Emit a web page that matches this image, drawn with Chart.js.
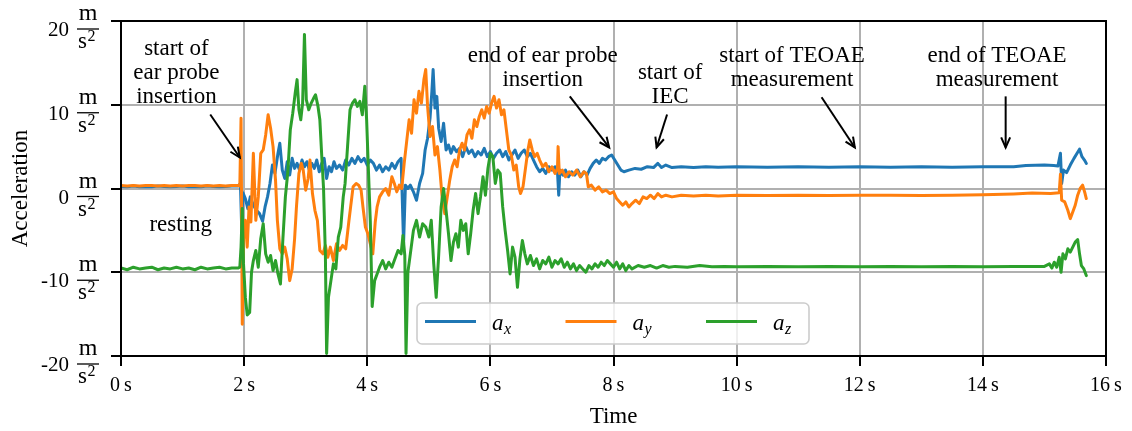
<!DOCTYPE html>
<html>
<head>
<meta charset="utf-8">
<script src="https://cdn.jsdelivr.net/npm/chart.js@4.4.0/dist/chart.umd.min.js"></script>
<style>
  html, body { margin: 0; padding: 0; background: #fff; }
  canvas { display: block; }
</style>
</head>
<body>
<canvas id="accelChart" width="1132" height="431"></canvas>
<script>
// Time stamps (s) and acceleration values (m/s^2)
const tX = [
  0, 0.1, 0.2, 0.3, 0.4, 0.5, 0.6, 0.7, 0.8, 0.9,
  1.0, 1.1, 1.2, 1.3, 1.4, 1.5, 1.6, 1.7, 1.8, 1.9,
  1.94, 1.96, 1.98, 2.02, 2.06, 2.10, 2.15, 2.20, 2.25, 2.30,
  2.34, 2.38, 2.42, 2.46, 2.50, 2.55, 2.58, 2.62, 2.66, 2.70,
  2.74, 2.78, 2.82, 2.86, 2.90, 2.94, 2.98, 3.02, 3.06, 3.10,
  3.14, 3.18, 3.22, 3.26, 3.30, 3.34, 3.38, 3.42, 3.46, 3.50,
  3.55, 3.60, 3.65, 3.70, 3.75, 3.80, 3.85, 3.90, 3.95, 4.00,
  4.05, 4.10, 4.15, 4.20, 4.25, 4.30, 4.35, 4.40, 4.45, 4.50,
  4.55, 4.59, 4.62, 4.66, 4.70, 4.75, 4.80, 4.85, 4.90, 4.94,
  4.98, 5.02, 5.05, 5.07, 5.10, 5.13, 5.16, 5.20, 5.24, 5.28,
  5.32, 5.36, 5.40, 5.45, 5.50, 5.55, 5.60, 5.65, 5.70, 5.75,
  5.80, 5.85, 5.90, 5.95, 6.00, 6.05, 6.10, 6.15, 6.20, 6.25,
  6.30, 6.35, 6.40, 6.45, 6.50, 6.55, 6.60, 6.65, 6.70, 6.75,
  6.80, 6.85, 6.90, 6.95, 7.00, 7.05, 7.09, 7.11, 7.13, 7.18,
  7.22, 7.27, 7.32, 7.37, 7.42, 7.47, 7.52, 7.57, 7.62, 7.67,
  7.72, 7.77, 7.82, 7.87, 7.92, 7.97, 8.02, 8.07, 8.12, 8.17,
  8.25, 8.35, 8.45, 8.55, 8.65, 8.72, 8.78, 8.85, 8.95, 9.1,
  9.3, 9.5, 9.7, 10.0, 10.5, 11.0, 11.5, 12.0, 12.5, 13.0,
  13.5, 14.0, 14.5, 14.7, 15.0, 15.15, 15.22, 15.26, 15.28, 15.31,
  15.36, 15.42, 15.48, 15.53, 15.57, 15.61, 15.65, 15.68
];
const ax = [
  0.25, 0.2, 0.3, 0.2, 0.25, 0.2, 0.3, 0.25, 0.2, 0.25,
  0.3, 0.2, 0.25, 0.2, 0.3, 0.25, 0.2, 0.25, 0.3, 0.3,
  0.6, -4.6, -0.5, -1.2, -2.4, -1.0, -2.0, -2.6, -3.0, -3.9,
  -2.2, -1.0, 0.6, 2.8, 1.8, 4.2, 5.4, 2.2, 1.2, 3.2,
  1.6, 3.6, 2.4, 3.0, 2.2, 3.4, 2.6, 3.2, 2.2, 3.0,
  2.4, 3.4, 2.0, 3.0, 3.6, 1.2, 2.6, 2.0, 3.2, 2.4,
  2.8, 2.2, 3.4, 2.8, 3.6, 3.0, 3.8, 3.2, 3.6, 2.8,
  3.4, 3.0, 2.2, 2.8, 2.0, 2.6, 2.2, 3.0, 2.4, 3.2,
  3.6, -6.6, 0.4, 0.0, 0.4, -0.4, -1.4, 0.6, 1.8, 4.6,
  6.0, 8.4, 11.6, 14.2, 9.6, 11.0, 7.2, 5.6, 7.8, 4.6,
  5.2, 4.2, 5.0, 4.4, 4.8, 3.8, 5.0, 4.2, 4.6, 3.8,
  4.4, 4.0, 4.8, 3.8, 4.4, 3.6, 4.2, 4.6, 3.8, 4.4,
  3.4, 4.0, 4.6, 3.6, 4.2, 4.6, 3.8, 4.2, 3.4, 2.6,
  2.0, 2.4, 1.8, 2.6, 2.2, 2.6, 2.0, -0.8, 2.2, 1.6,
  2.2, 1.4, 2.0, 1.6, 2.2, 1.4, 2.0, 1.6, 2.4, 3.0,
  3.4, 3.0, 3.6, 3.4, 3.8, 4.0, 3.4, 2.8, 2.2, 2.0,
  2.2, 2.4, 2.3, 2.6, 2.5, 3.0, 2.5, 2.8, 2.5, 2.6,
  2.5, 2.6, 2.55, 2.6, 2.55, 2.6, 2.55, 2.6, 2.55, 2.6,
  2.55, 2.6, 2.6, 2.75, 2.8, 2.75, 2.7, 4.2, 0.6, 2.2,
  1.9, 2.8, 3.6, 4.2, 4.7, 3.8, 3.4, 3.0
];

const tY = [
  0, 0.1, 0.2, 0.3, 0.4, 0.5, 0.6, 0.7, 0.8, 0.9,
  1.0, 1.1, 1.2, 1.3, 1.4, 1.5, 1.6, 1.7, 1.8, 1.9,
  1.93, 1.95, 1.97, 1.99, 2.02, 2.05, 2.08, 2.11, 2.15, 2.19,
  2.23, 2.27, 2.31, 2.35, 2.39, 2.43, 2.47, 2.51, 2.54, 2.58,
  2.62, 2.66, 2.70, 2.74, 2.78, 2.82, 2.85, 2.89, 2.93, 2.96,
  3.00, 3.04, 3.07, 3.11, 3.15, 3.19, 3.23, 3.28, 3.32, 3.36,
  3.40, 3.45, 3.50, 3.55, 3.60, 3.65, 3.70, 3.73, 3.77, 3.82,
  3.86, 3.90, 3.93, 3.97, 4.01, 4.05, 4.09, 4.13, 4.16, 4.20,
  4.25, 4.30, 4.35, 4.40, 4.44, 4.48, 4.52, 4.56, 4.60, 4.64,
  4.68, 4.72, 4.76, 4.80, 4.84, 4.88, 4.92, 4.95, 4.98, 5.02,
  5.06, 5.10, 5.14, 5.18, 5.22, 5.26, 5.30, 5.34, 5.38, 5.42,
  5.46, 5.50, 5.54, 5.58, 5.62, 5.66, 5.70, 5.74, 5.78, 5.82,
  5.86, 5.90, 5.94, 5.98, 6.02, 6.06, 6.10, 6.14, 6.18, 6.22,
  6.26, 6.30, 6.34, 6.38, 6.42, 6.46, 6.49, 6.53, 6.57, 6.61,
  6.64, 6.68, 6.72, 6.76, 6.80, 6.85, 6.90, 6.95, 7.00, 7.05,
  7.09, 7.10, 7.12, 7.17, 7.22, 7.28, 7.34, 7.40, 7.46, 7.52,
  7.56, 7.59, 7.64, 7.70, 7.76, 7.82, 7.88, 7.94, 8.00, 8.05,
  8.10, 8.15, 8.20, 8.25, 8.30, 8.36, 8.42, 8.48, 8.54, 8.60,
  8.66, 8.72, 8.78, 8.85, 8.95, 9.1, 9.3, 9.5, 9.7, 10.0,
  10.5, 11.0, 11.5, 12.0, 12.5, 13.0, 13.5, 14.0, 14.5, 14.8,
  15.1, 15.24, 15.26, 15.28, 15.33, 15.38, 15.42, 15.46, 15.50, 15.54,
  15.58, 15.62, 15.66, 15.68
];
const ay = [
  0.35, 0.3, 0.35, 0.3, 0.35, 0.35, 0.3, 0.35, 0.3, 0.35,
  0.3, 0.35, 0.35, 0.3, 0.35, 0.3, 0.35, 0.3, 0.35, 0.35,
  0.3, 8.4, -16.2, -6.0, -3.8, -7.0, -2.2, -4.0, 4.2, -3.8,
  -1.0, 4.2, 4.6, 6.4, 8.8, 7.2, 5.0, 1.0, -3.8, -7.2,
  -7.8, -7.0, -8.4, -11.0, -9.6, -6.0, -2.2, 1.8, 3.0, 2.2,
  -0.2, 1.2, 3.4, -0.6, -2.6, -3.8, -7.4, -7.8, -6.8, -8.2,
  -7.0, -8.6, -6.6, -7.4, -6.8, -7.2, -4.0, -2.2, 0.2, 0.6,
  0.4, -0.2, -2.2, -4.6, -5.4, -6.6, -7.8, -4.0, -2.2, -1.0,
  -0.4, 0.0, -0.8, 1.4, 0.6, -0.4, 0.4, 0.0, 3.0, 5.6,
  8.2, 6.6, 10.6, 9.0, 11.6, 10.2, 13.0, 14.2, 9.8, 6.2,
  7.4, 4.0, 5.0, 2.2, -1.4, -3.0, -1.0, 1.0, 2.6, 3.4,
  2.6, 4.6, 5.4, 4.6, 6.4, 7.0, 6.0, 8.2, 7.4, 8.6,
  9.4, 8.4, 9.8, 9.0, 10.2, 11.0, 9.6, 10.6, 8.8, 9.4,
  7.0, 4.6, 4.0, 2.2, 2.8, 0.2, -0.6, 0.2, 2.4, 4.6,
  5.8, 4.6, 3.8, 4.2, 3.4, 2.6, 3.0, 2.0, 2.6, 1.8,
  2.4, 5.0, 1.8, 2.2, 1.4, 2.0, 1.6, 2.2, 1.4, 2.0,
  1.8, 0.2, 0.4, -0.2, 0.2, -0.4, -0.2, -0.6, -0.4, -1.2,
  -1.6, -2.0, -1.6, -2.2, -1.8, -1.4, -1.8, -1.0, -1.2, -0.8,
  -1.2, -0.6, -1.0, -0.8, -1.0, -0.8, -0.9, -0.8, -0.9, -0.8,
  -0.85, -0.8, -0.85, -0.8, -0.8, -0.85, -0.8, -0.75, -0.65, -0.55,
  -0.6, -0.5, 1.7, -1.4, -1.6, -2.6, -3.6, -2.8, -2.0, -0.8,
  0.0, 0.4, -0.6, -1.2
];

const tZ = [
  0, 0.1, 0.2, 0.3, 0.4, 0.5, 0.6, 0.7, 0.8, 0.9,
  1.0, 1.1, 1.2, 1.3, 1.4, 1.5, 1.6, 1.7, 1.8, 1.9,
  1.93, 1.95, 1.97, 1.99, 2.02, 2.05, 2.09, 2.12, 2.15, 2.19,
  2.23, 2.27, 2.31, 2.35, 2.39, 2.43, 2.47, 2.51, 2.55, 2.59,
  2.63, 2.67, 2.71, 2.75, 2.79, 2.83, 2.86, 2.89, 2.92, 2.95,
  2.98, 3.01, 3.05, 3.09, 3.13, 3.16, 3.20, 3.23, 3.26, 3.29,
  3.32, 3.34, 3.37, 3.41, 3.45, 3.49, 3.53, 3.57, 3.61, 3.64,
  3.68, 3.72, 3.76, 3.80, 3.84, 3.88, 3.92, 3.96, 3.99, 4.02,
  4.05, 4.08, 4.12, 4.16, 4.20, 4.25, 4.30, 4.35, 4.40, 4.45,
  4.50, 4.55, 4.58, 4.61, 4.63, 4.66, 4.70, 4.75, 4.80, 4.85,
  4.90, 4.95, 5.00, 5.04, 5.08, 5.12, 5.16, 5.20, 5.24, 5.28,
  5.32, 5.36, 5.40, 5.44, 5.48, 5.52, 5.56, 5.60, 5.64, 5.68,
  5.72, 5.76, 5.80, 5.84, 5.88, 5.92, 5.96, 6.00, 6.04, 6.08,
  6.12, 6.16, 6.20, 6.24, 6.28, 6.32, 6.36, 6.40, 6.44, 6.48,
  6.52, 6.56, 6.60, 6.65, 6.70, 6.75, 6.80, 6.85, 6.90, 6.95,
  7.00, 7.05, 7.10, 7.15, 7.20, 7.25, 7.30, 7.35, 7.40, 7.45,
  7.50, 7.55, 7.60, 7.65, 7.70, 7.75, 7.80, 7.85, 7.90, 7.95,
  8.00, 8.05, 8.10, 8.15, 8.20, 8.25, 8.30, 8.40, 8.50, 8.60,
  8.70, 8.80, 8.90, 9.0, 9.2, 9.4, 9.6, 9.8, 10.0, 10.5,
  11.0, 11.5, 12.0, 12.5, 13.0, 13.5, 14.0, 14.5, 15.0, 15.08,
  15.12, 15.16, 15.20, 15.24, 15.27, 15.30, 15.34, 15.38, 15.42, 15.46,
  15.50, 15.54, 15.57, 15.60, 15.64, 15.68
];
const az = [
  -9.5, -9.7, -9.4, -9.6, -9.5, -9.4, -9.7, -9.5, -9.6, -9.4,
  -9.6, -9.5, -9.7, -9.4, -9.6, -9.5, -9.4, -9.6, -9.5, -9.5,
  -9.4, -7.0, -2.4, -9.0, -13.0, -15.1, -14.8, -10.0, -8.6, -7.4,
  -9.4, -6.0, -4.2, -7.8, -8.8, -8.0, -9.8, -8.6, -10.2, -11.4,
  -6.0, -1.0, 2.0, 7.0, 9.0, 11.4, 13.0, 9.4, 8.2, 10.2,
  18.4, 10.6, 9.4, 10.2, 10.8, 11.2, 9.8, 8.2, 4.0, 0.0,
  -8.0, -19.7, -13.0, -11.0, -9.0, -9.6, -5.8, -4.6, -1.0, 0.6,
  5.0, 9.4, 10.2, 10.6, 9.8, 10.4, 8.8, 12.2, 8.2, 2.0,
  -4.0, -14.1, -11.0, -10.2, -9.4, -8.6, -9.6, -8.8, -9.4, -8.4,
  -7.4, -7.8, -5.6, -8.0, -19.7, -10.0, -7.8, -5.0, -3.8, -5.8,
  -4.2, -4.6, -5.8, -3.8, -9.0, -13.0, -8.0, -2.2, 0.0, -2.6,
  -5.4, -8.6, -6.4, -5.4, -7.0, -3.8, -5.0, -4.2, -7.8, -5.4,
  -2.6, -0.6, -3.0, -1.0, 1.4, -0.8, 2.4, 4.2, 3.8, 0.6,
  2.2, 1.8, -2.2, -5.0, -7.4, -10.2, -7.0, -8.2, -11.8, -8.4,
  -6.2, -7.8, -9.0, -8.0, -9.2, -8.4, -9.6, -8.6, -9.0, -8.2,
  -9.4, -8.6, -9.0, -8.4, -9.4, -8.8, -9.6, -9.0, -9.8, -9.2,
  -9.6, -10.0, -9.2, -9.6, -9.0, -9.4, -8.8, -9.2, -8.6, -9.0,
  -9.4, -8.8, -9.6, -9.0, -9.8, -9.2, -9.6, -9.2, -9.4, -9.2,
  -9.5, -9.2, -9.4, -9.3, -9.4, -9.2, -9.35, -9.3, -9.35, -9.3,
  -9.35, -9.3, -9.35, -9.3, -9.35, -9.3, -9.35, -9.3, -9.3, -9.0,
  -9.5, -8.8, -9.4, -8.2, -10.0, -7.8, -8.4, -7.2, -7.6, -7.0,
  -6.4, -6.1, -7.8, -9.2, -9.6, -10.4
];

// Axis ticks
const xTicks = [0, 2, 4, 6, 8, 10, 12, 14, 16];
const yTicks = [-20, -10, 0, 10, 20];

// Series names and colours
const seriesNames = ['x', 'y', 'z'];
const seriesColors = ['#1f77b4', '#ff7f0e', '#2ca02c'];

// Annotations (data coordinates)
const notes = [
  { lines: ['start of', 'ear probe', 'insertion'], x: 0.90, y: 13.77, from: [1.45, 8.84], to: [1.93, 3.70] },
  { lines: ['end of ear probe', 'insertion'], x: 6.85, y: 14.39, from: [7.29, 11.0], to: [7.93, 4.9] },
  { lines: ['start of', 'IEC'], x: 8.92, y: 12.42, from: [8.87, 8.84], to: [8.70, 4.9] },
  { lines: ['start of TEOAE', 'measurement'], x: 10.90, y: 14.39, from: [11.38, 10.9], to: [11.92, 4.9] },
  { lines: ['end of TEOAE', 'measurement'], x: 14.23, y: 14.39, from: [14.37, 11.0], to: [14.37, 4.9] },
  { lines: ['resting'], x: 0.97, y: -4.3 }
];

const serif = '"Liberation Serif", "Times New Roman", serif';

const toPoints = (ts, vs) => ts.map((t, i) => ({ x: t, y: vs[i] }));

function drawArrow(ctx, x1, y1, x2, y2) {
  const a = Math.atan2(y2 - y1, x2 - x1);
  const len = 11, spread = 0.42;
  ctx.beginPath();
  ctx.moveTo(x1, y1);
  ctx.lineTo(x2, y2);
  ctx.stroke();
  ctx.beginPath();
  ctx.moveTo(x2 - len * Math.cos(a - spread), y2 - len * Math.sin(a - spread));
  ctx.lineTo(x2, y2);
  ctx.lineTo(x2 - len * Math.cos(a + spread), y2 - len * Math.sin(a + spread));
  ctx.stroke();
}

// Frame, annotations, legend, axis labels
const decorPlugin = {
  id: 'decor',
  beforeDraw(chart) {
    const ctx = chart.ctx;
    ctx.save();
    ctx.fillStyle = '#fff';
    ctx.fillRect(0, 0, chart.width, chart.height);
    ctx.restore();
  },
  afterDatasetsDraw(chart) {
    const ctx = chart.ctx;
    const a = chart.chartArea;
    const xs = chart.scales.x, ys = chart.scales.y;
    ctx.save();

    // frame
    ctx.strokeStyle = '#000';
    ctx.lineWidth = 2;
    ctx.strokeRect(a.left, a.top, a.right - a.left, a.bottom - a.top);

    // annotations
    ctx.fillStyle = '#000';
    ctx.font = '23px ' + serif;
    ctx.textAlign = 'center';
    ctx.textBaseline = 'middle';
    ctx.lineWidth = 2;
    notes.forEach(n => {
      const cx = xs.getPixelForValue(n.x);
      const cy = ys.getPixelForValue(n.y);
      n.lines.forEach((line, i) => {
        ctx.fillText(line, cx, cy + (i - (n.lines.length - 1) / 2) * 24);
      });
      if (n.from) {
        drawArrow(ctx,
          xs.getPixelForValue(n.from[0]), ys.getPixelForValue(n.from[1]),
          xs.getPixelForValue(n.to[0]), ys.getPixelForValue(n.to[1]));
      }
    });

    // legend
    const lx = 417, ly = 303, lw = 392, lh = 41;
    ctx.beginPath();
    ctx.roundRect(lx, ly, lw, lh, 5);
    ctx.fillStyle = 'rgba(255,255,255,0.8)';
    ctx.fill();
    ctx.strokeStyle = '#cccccc';
    ctx.lineWidth = 1.6;
    ctx.stroke();
    seriesNames.forEach((name, i) => {
      const x0 = lx + 8 + i * 140.5;
      ctx.strokeStyle = seriesColors[i];
      ctx.lineWidth = 3;
      ctx.beginPath();
      ctx.moveTo(x0, ly + 18.5);
      ctx.lineTo(x0 + 51, ly + 18.5);
      ctx.stroke();
      ctx.fillStyle = '#000';
      ctx.textAlign = 'left';
      ctx.textBaseline = 'alphabetic';
      ctx.font = 'italic 23px ' + serif;
      ctx.fillText('a', x0 + 67, ly + 27);
      ctx.font = 'italic 16px ' + serif;
      ctx.fillText(name, x0 + 79, ly + 31);
    });
    ctx.restore();
  },
  afterDraw(chart) {
    const ctx = chart.ctx;
    const a = chart.chartArea;
    const ys = chart.scales.y;
    ctx.save();
    ctx.fillStyle = '#000';
    ctx.strokeStyle = '#000';

    // y tick labels: number and m/s^2 fraction
    yTicks.forEach(v => {
      const c = ys.getPixelForValue(v) + 8;
      ctx.font = '21px ' + serif;
      ctx.textAlign = 'right';
      ctx.textBaseline = 'alphabetic';
      ctx.fillText(String(v), 69, c + 7);
      ctx.textAlign = 'center';
      ctx.font = '24px ' + serif;
      ctx.fillText('m', 88, c - 9);
      ctx.lineWidth = 1.3;
      ctx.beginPath();
      ctx.moveTo(77, c);
      ctx.lineTo(99, c);
      ctx.stroke();
      ctx.textAlign = 'left';
      ctx.font = '23px ' + serif;
      ctx.fillText('s', 78, c + 19);
      ctx.font = '16px ' + serif;
      ctx.fillText('2', 87.5, c + 12);
    });

    // axis titles
    ctx.font = '23px ' + serif;
    ctx.textAlign = 'center';
    ctx.textBaseline = 'alphabetic';
    ctx.fillText('Time', (a.left + a.right) / 2, 423);
    ctx.translate(27, (a.top + a.bottom) / 2);
    ctx.rotate(-Math.PI / 2);
    ctx.fillText('Acceleration', 0, 0);
    ctx.restore();
  }
};

// Chart configuration
const accelConfig = {
  type: 'line',
  data: {
    datasets: [
      { label: 'a_x', data: toPoints(tX, ax), borderColor: seriesColors[0], order: 3 },
      { label: 'a_y', data: toPoints(tY, ay), borderColor: seriesColors[1], order: 2 },
      { label: 'a_z', data: toPoints(tZ, az), borderColor: seriesColors[2], order: 1 }
    ]
  },
  options: {
    responsive: false,
    animation: false,
    events: [],
    layout: {
      padding: { top: 21, right: 26, left: 0, bottom: 0 }
    },
    elements: {
      line: {
        borderWidth: 3,
        tension: 0,
        fill: false,
        borderJoinStyle: 'round',
        borderCapStyle: 'round'
      },
      point: { radius: 0 }
    },
    plugins: {
      legend: { display: false },
      tooltip: { enabled: false }
    },
    scales: {
      x: {
        type: 'linear',
        min: 0,
        max: 16,
        afterBuildTicks: (scale) => { scale.ticks = xTicks.map(v => ({ value: v })); },
        afterFit: (scale) => { scale.height = 75; },
        ticks: {
          autoSkip: false,
          maxRotation: 0,
          padding: 8,
          color: '#000',
          font: { family: serif, size: 20 },
          callback: (v) => v + '\u2009s'
        },
        grid: {
          color: '#b0b0b0',
          lineWidth: 2,
          drawTicks: true,
          tickLength: 10,
          tickColor: '#000',
          tickWidth: 2
        },
        border: { display: true, color: '#000', width: 2 }
      },
      y: {
        type: 'linear',
        min: -20,
        max: 20,
        afterBuildTicks: (scale) => { scale.ticks = yTicks.map(v => ({ value: v })); },
        afterFit: (scale) => { scale.width = 121; },
        ticks: { display: false },
        grid: {
          color: '#b0b0b0',
          lineWidth: 2,
          drawTicks: true,
          tickLength: 10,
          tickColor: '#000',
          tickWidth: 2
        },
        border: { display: true, color: '#000', width: 2 }
      }
    }
  },
  plugins: [decorPlugin]
};

// Create the chart
const ctx = document.getElementById('accelChart').getContext('2d');
new Chart(ctx, accelConfig);
</script>
</body>
</html>
